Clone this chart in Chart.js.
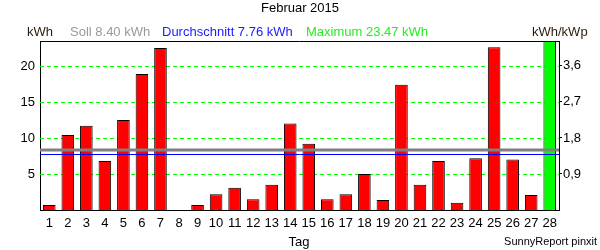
<!DOCTYPE html>
<html>
<head>
<meta charset="utf-8">
<script src="https://cdn.jsdelivr.net/npm/chart.js@4/dist/chart.umd.min.js"></script>
<style>
  html, body { margin: 0; padding: 0; background: #fff; }
  #wrap { width: 600px; height: 250px; }
</style>
</head>
<body>
<div id="wrap"><canvas id="chart" width="600" height="250"></canvas></div>
<script>
// data
const days = ['1','2','3','4','5','6','7','8','9','10','11','12','13','14',
              '15','16','17','18','19','20','21','22','23','24','25','26','27','28'];
const energy = [0.7, 10.4, 11.7, 6.8, 12.5, 18.9, 22.5, 0, 0.7, 2.2, 3.1, 1.5, 3.5, 12.0,
                9.2, 1.5, 2.2, 5.0, 1.4, 17.4, 3.5, 6.8, 1.0, 7.2, 22.6, 7.0, 2.1, 23.47];
const soll = 8.40;
const average = 7.76;
const maximum = 23.47;
const kWp = 5.56;
const leftTicks = [5, 10, 15, 20];
const rightTicks = [0.9, 1.8, 2.7, 3.6];

const title = 'Februar 2015';
const xTitle = 'Tag';
const footer = 'SunnyReport pinxit';

Chart.defaults.font.family = '"Liberation Sans", Arial, sans-serif';
Chart.defaults.font.size = 13;
Chart.defaults.color = '#000';

const barColors = energy.map(v => v === maximum ? '#00ff00' : '#ff0000');

// green dashed grid behind the bars
const gridLines = {
    id: 'gridLines',
    beforeDatasetsDraw(chart) {
        const { ctx, chartArea: a, scales } = chart;
        ctx.save();
        ctx.strokeStyle = '#00ff00';
        ctx.lineWidth = 1;
        ctx.setLineDash([4, 3]);
        scales.y.ticks.forEach(t => {
            const py = Math.round(scales.y.getPixelForValue(t.value)) + 0.5;
            ctx.beginPath();
            ctx.moveTo(a.left, py);
            ctx.lineTo(a.right, py);
            ctx.stroke();
        });
        ctx.restore();
    }
};

// header texts, reference lines and frame
const decorations = {
    id: 'decorations',
    afterDatasetsDraw(chart) {
        const { ctx, chartArea: a, scales } = chart;
        const y = scales.y;
        ctx.save();

        // Soll and average lines
        ctx.beginPath();
        ctx.strokeStyle = '#808080';
        ctx.lineWidth = 3;
        const ys = Math.round(y.getPixelForValue(soll));
        ctx.moveTo(a.left, ys);
        ctx.lineTo(a.right, ys);
        ctx.stroke();

        ctx.beginPath();
        ctx.strokeStyle = '#0000ff';
        ctx.lineWidth = 1;
        const ya = Math.round(y.getPixelForValue(average)) + 0.5;
        ctx.moveTo(a.left, ya);
        ctx.lineTo(a.right, ya);
        ctx.stroke();

        // top frame line
        ctx.beginPath();
        ctx.strokeStyle = '#000';
        ctx.lineWidth = 1;
        ctx.moveTo(a.left, a.top + 0.5);
        ctx.lineTo(a.right, a.top + 0.5);
        ctx.stroke();

        ctx.font = '13px "Liberation Sans", Arial, sans-serif';
        ctx.textBaseline = 'middle';

        ctx.textAlign = 'center';
        ctx.fillStyle = '#000';
        ctx.fillText(title, 300, 8);
        ctx.fillText(xTitle, 299, 242);

        ctx.textAlign = 'left';
        ctx.fillStyle = '#2a1a0a';
        ctx.fillText('kWh', 27, 32);
        ctx.fillStyle = '#999999';
        ctx.fillText('Soll ' + soll.toFixed(2) + ' kWh', 70, 32);
        ctx.fillStyle = '#2020ff';
        ctx.fillText('Durchschnitt ' + average.toFixed(2) + ' kWh', 162, 32);
        ctx.fillStyle = '#22ee22';
        ctx.fillText('Maximum ' + maximum.toFixed(2) + ' kWh', 306, 32);
        ctx.fillStyle = '#2a1a0a';
        ctx.fillText('kWh/kWp', 532, 32);

        ctx.font = '11px "Liberation Sans", Arial, sans-serif';
        ctx.fillStyle = '#000';
        ctx.textAlign = 'right';
        ctx.fillText(footer, 597, 242);
        ctx.restore();
    }
};

new Chart(document.getElementById('chart'), {
    type: 'bar',
    data: {
        labels: days,
        datasets: [{
            data: energy,
            backgroundColor: barColors,
            borderColor: '#000',
            borderWidth: 1,
            barPercentage: 0.68,
            categoryPercentage: 1
        }]
    },
    options: {
        responsive: false,
        animation: false,
        layout: { padding: { top: 41, left: 0, right: 0, bottom: 0 } },
        plugins: {
            legend: { display: false },
            tooltip: { enabled: false }
        },
        scales: {
            x: {
                grid: { display: false, drawTicks: false },
                border: { display: true, color: '#000', width: 1 },
                ticks: { padding: 6, color: '#000', maxRotation: 0, autoSkip: false },
                afterFit(scale) { scale.height = 40; }
            },
            y: {
                position: 'left',
                min: 0,
                max: maximum,
                afterBuildTicks(scale) { scale.ticks = leftTicks.map(v => ({ value: v })); },
                afterFit(scale) { scale.width = 40; },
                grid: { drawOnChartArea: false, drawTicks: false },
                border: { display: true, color: '#000', width: 1 },
                ticks: { padding: 5, color: '#000' }
            },
            y2: {
                position: 'right',
                min: 0,
                max: maximum / kWp,
                afterBuildTicks(scale) { scale.ticks = rightTicks.map(v => ({ value: v })); },
                afterFit(scale) { scale.width = 41; },
                grid: { drawOnChartArea: false, drawTicks: true, tickLength: 3, color: '#000' },
                border: { display: true, color: '#000', width: 1 },
                ticks: {
                    padding: 1,
                    color: '#000',
                    callback: v => v.toFixed(1).replace('.', ',')
                }
            }
        }
    },
    plugins: [gridLines, decorations]
});
</script>
</body>
</html>
